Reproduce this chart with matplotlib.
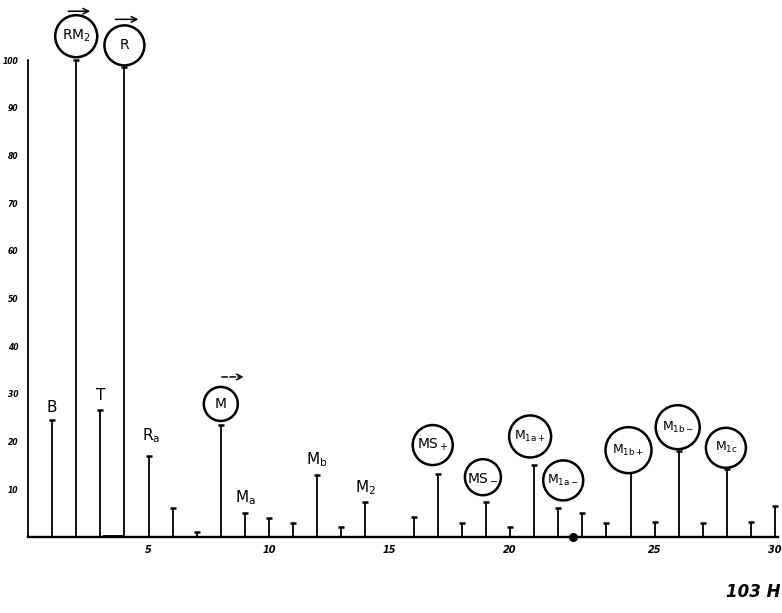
"""Hand-drawn line spectrum: peak heights per partial, labelled peaks."""

import matplotlib
matplotlib.use("Agg")
import matplotlib.pyplot as plt
import matplotlib.transforms as mtransforms
from matplotlib.patches import Circle

plt.rcParams.update({
    "font.family": "DejaVu Sans",
    "mathtext.default": "regular",
})

# stem positions and heights
POSITIONS = [1, 2, 3, 4, 5, 6, 7, 8, 9, 10, 11, 12, 13, 14,
             16, 17, 18, 19, 20, 21, 22, 23, 24, 25, 26, 27, 28, 29, 30, 31]
HEIGHTS = [24.5, 100, 26.6, 98.5, 17, 6, 1, 23.5, 5, 4, 3, 13, 2, 7.3,
           4.2, 13.2, 3, 7.3, 2, 15, 6, 5, 3, 13.6, 3.1, 18, 2.9, 14.3, 3.1, 6.5]

# labelled peaks: position -> label
LABEL_POS = [1, 3, 5, 9, 12, 14]
LABEL_TXT = ["B", "T", "R$_a$", "M$_a$", "M$_b$", "M$_2$"]
CIRCLED_POS = [2, 4, 8, 17, 19, 21, 22, 25, 27, 29]
CIRCLED_TXT = ["RM$_2$", "R", "M", "MS$_+$", "MS$_-$", "M$_{1a+}$",
               "M$_{1a-}$", "M$_{1b+}$", "M$_{1b-}$", "M$_{1c}$"]
ARROW_POS = [2, 4, 8]

Y_TICKS = [10, 20, 30, 40, 50, 60, 70, 80, 90, 100]
X_TICK_POS = [5, 10, 15, 20, 26, 31]   # hand-written labels drift to the right
X_TICK_TXT = ["5", "10", "15", "20", "25", "30"]

THICK_SEGMENT = (3.1, 4.0)
BASE_DOT_X = 22.6

# layout of labels relative to the stem top, in pixels (dx, dy up)
LABEL_OFFSETS = [(0, 13), (0, 15), (3, 20), (1, 16), (0, 15), (0, 15)]
CIRCLE_OFFSETS = [(0, 24), (0, 22), (0, 21), (-5, 29), (-3, 25), (-4, 29),
                  (5, 28), (-2, 22), (-1, 24), (-1, 21)]
CIRCLE_RADII = [21, 20, 17, 20, 18, 21, 20, 23, 22, 20]
ARROW_OFFSETS = [(-8, 14, 49), (-9, 14, 48), (1, 23, 48)]

fig = plt.figure(figsize=(7.82, 6.13), dpi=100)
ax = fig.add_axes([28 / 782, 76 / 613, 750 / 782, 534 / 613])
ax.set_xlim(0, 31.12)
ax.set_ylim(0, 112)

ax.vlines(POSITIONS, 0, HEIGHTS, color="black", lw=1.3, zorder=3)
ax.plot(POSITIONS, HEIGHTS, linestyle="None", marker="_", markersize=4,
        mew=1.8, color="black", zorder=3)
ax.plot(THICK_SEGMENT, [0, 0], color="black", lw=2.8, solid_capstyle="butt", zorder=3)
ax.plot([BASE_DOT_X], [0], "o", color="black", markersize=5.5, zorder=4, clip_on=False)

height_of = dict(zip(POSITIONS, HEIGHTS))

for x, txt, (dx, dy) in zip(LABEL_POS, LABEL_TXT, LABEL_OFFSETS):
    ax.annotate(txt, xy=(x, height_of[x]), xytext=(dx, dy), textcoords="offset pixels",
                ha="center", va="center", fontsize=11)

for x, txt, (dx, dy), r in zip(CIRCLED_POS, CIRCLED_TXT, CIRCLE_OFFSETS, CIRCLE_RADII):
    anchor = mtransforms.ScaledTranslation(x, height_of[x], ax.transData)
    ax.add_patch(Circle((dx, dy), r, transform=anchor, facecolor="white",
                        edgecolor="black", lw=1.8, zorder=5, clip_on=False))
    fs = 10 if len(txt) < 8 else 9
    ax.annotate(txt, xy=(x, height_of[x]), xytext=(dx, dy), textcoords="offset pixels",
                ha="center", va="center", fontsize=fs, zorder=6, annotation_clip=False)

for x, (x0, x1, dy) in zip(ARROW_POS, ARROW_OFFSETS):
    anchor = mtransforms.ScaledTranslation(x, height_of[x], ax.transData)
    ls = "--" if x == 8 else "-"
    ax.annotate("", xy=(x1, dy), xycoords=anchor, xytext=(x0, dy), textcoords=anchor,
                arrowprops=dict(arrowstyle="->", color="black", lw=1.1, linestyle=ls,
                                shrinkA=0, shrinkB=0), annotation_clip=False)

for side in ("top", "right"):
    ax.spines[side].set_visible(False)
ax.spines["left"].set_bounds(0, 100)
ax.spines["left"].set_linewidth(1.3)
ax.spines["bottom"].set_bounds(0, 31.12)
ax.spines["bottom"].set_linewidth(1.7)

ax.set_yticks(Y_TICKS)
ax.set_yticklabels([str(v) for v in Y_TICKS], fontsize=5.5, fontstyle="italic",
                   fontweight="bold")
ax.set_xticks(X_TICK_POS)
ax.set_xticklabels(X_TICK_TXT, fontsize=7, fontstyle="italic", fontweight="bold")
ax.tick_params(axis="y", length=0, pad=7)
ax.tick_params(axis="x", length=0, pad=6)

fig.text(780 / 782, 21 / 613, "103 H", fontsize=12, fontstyle="italic",
         fontweight="bold", ha="right", va="center")

fig.savefig("out.png", dpi=100)
